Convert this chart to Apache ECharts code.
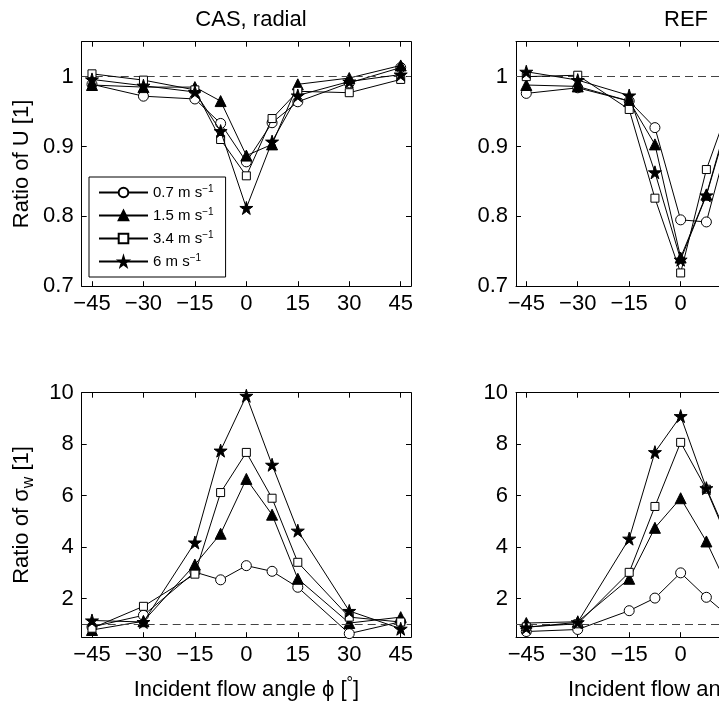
<!DOCTYPE html>
<html>
<head>
<meta charset="utf-8">
<script src="https://cdn.jsdelivr.net/npm/echarts@6.0.0/dist/echarts.min.js"></script>
<style>
  html, body { margin: 0; padding: 0; overflow: hidden; background: #fff; }
  #chart { width: 860px; height: 708px; }
</style>
</head>
<body>
<div id="chart"></div>
<script>
//****** 数据 ******//
var angles = [-45, -30, -15, -7.5, 0, 7.5, 15, 30, 45];
var speeds = ["0.7", "1.5", "3.4", "6"];
var xTicks = [-45, -30, -15, 0, 15, 30, 45];
var uTicks = [0.7, 0.8, 0.9, 1];
var swTicks = [2, 4, 6, 8, 10];

// CAS, radial - Ratio of U //
var casU07 = [0.989, 0.972, 0.968, 0.933, 0.878, 0.934, 0.964, 0.991, 1.013];
var casU15 = [0.988, 0.985, 0.985, 0.965, 0.887, 0.903, 0.989, 0.998, 1.016];
var casU34 = [1.004, 0.995, 0.981, 0.910, 0.858, 0.940, 0.979, 0.977, 0.996];
var casU6 = [0.996, 0.987, 0.978, 0.922, 0.812, 0.907, 0.973, 0.993, 1.003];
// REF - Ratio of U //
var refU07 = [0.976, 0.984, 0.965, 0.927, 0.795, 0.792, 0.93, 0.985, 1.0];
var refU15 = [0.988, 0.986, 0.965, 0.903, 0.741, 0.831, 0.96, 0.99, 1.005];
var refU34 = [1.0, 1.002, 0.953, 0.826, 0.719, 0.867, 0.97, 0.99, 1.0];
var refU6 = [1.007, 0.995, 0.973, 0.863, 0.738, 0.83, 0.955, 0.99, 1.005];
// CAS, radial - Ratio of sigma_w //
var casSw07 = [0.9, 1.35, 3.03, 2.73, 3.28, 3.06, 2.44, 0.64, 1.1];
var casSw15 = [0.78, 1.12, 3.32, 4.52, 6.65, 5.26, 2.77, 1.05, 1.28];
var casSw34 = [0.85, 1.7, 2.95, 6.12, 7.68, 5.9, 3.41, 1.28, 1.09];
var casSw6 = [1.15, 1.09, 4.18, 7.75, 9.88, 7.2, 4.64, 1.52, 0.83];
// REF - Ratio of sigma_w //
var refSw07 = [0.72, 0.8, 1.53, 2.02, 3.0, 2.05, 1.2, 1.0, 1.0];
var refSw15 = [1.05, 1.1, 2.77, 4.75, 5.9, 4.22, 2.1, 1.1, 1.0];
var refSw34 = [0.9, 1.02, 3.02, 5.58, 8.07, 6.25, 3.9, 1.2, 1.0];
var refSw6 = [0.88, 1.08, 4.33, 7.69, 9.09, 6.29, 4.0, 1.3, 1.0];

//****** 样式 ******//
var FONT = "Liberation Sans";
var starPath =
  "path://M50,0 L61,35 L98,35 L68,57 L79,91 L50,70 L21,91 L32,57 L2,35 L39,35 Z";
var marks = [
  { symbol: "circle", size: 10, fill: "#fff" },
  { symbol: "triangle", size: 11, fill: "#000" },
  { symbol: "rect", size: 8, fill: "#fff" },
  { symbol: starPath, size: 13, fill: "#000" }
];

var panels = [
  { left: 81.7, top: 41.7, min: 0.7, max: 1.05, ticks: uTicks, sets: [casU07, casU15, casU34, casU6] },
  { left: 516, top: 41.7, min: 0.7, max: 1.05, ticks: uTicks, sets: [refU07, refU15, refU34, refU6] },
  { left: 81.7, top: 392.7, min: 0.5, max: 10, ticks: swTicks, sets: [casSw07, casSw15, casSw34, casSw6] },
  { left: 516, top: 392.7, min: 0.5, max: 10, ticks: swTicks, sets: [refSw07, refSw15, refSw34, refSw6] }
];

function xLabel(v) {
  return v < 0 ? "\u2212" + -v : String(v);
}
function yLabel(v) {
  return v < 2 && v !== 1 ? v.toFixed(1) : String(v);
}

var grids = [];
var xAxes = [];
var yAxes = [];
var series = [];

panels.forEach(function (p, i) {
  grids.push({ left: p.left, top: p.top, width: 329.3, height: 244.5 });
  var bottomRow = i >= 2;
  var lineCol = { onZero: false, lineStyle: { color: "#000", width: 1 } };
  xAxes.push({
    type: "value", gridIndex: i, min: -48, max: 48, position: "bottom",
    axisLine: lineCol, splitLine: { show: false },
    axisTick: { inside: true, length: 5, customValues: xTicks, lineStyle: { color: "#000" } },
    axisLabel: {
      customValues: xTicks, formatter: xLabel, margin: 7,
      fontSize: 22, fontFamily: FONT, color: "#000"
    },
    name: bottomRow ? "Incident flow angle \u03D5 [{s|\u00B0}]" : "",
    nameLocation: "middle", nameGap: 38,
    nameTextStyle: {
      fontSize: 22, fontFamily: FONT, color: "#000", lineHeight: 30,
      rich: { s: { fontSize: 16, fontFamily: FONT, color: "#000", verticalAlign: "top" } }
    }
  });
  xAxes.push({
    type: "value", gridIndex: i, min: -48, max: 48, position: "top",
    axisLine: lineCol, splitLine: { show: false },
    axisTick: { inside: true, length: 5, customValues: xTicks, lineStyle: { color: "#000" } },
    axisLabel: { show: false }
  });
  yAxes.push({
    type: "value", gridIndex: i, min: p.min, max: p.max, position: "left",
    axisLine: lineCol, splitLine: { show: false },
    axisTick: { inside: true, length: 5, customValues: p.ticks, lineStyle: { color: "#000" } },
    axisLabel: {
      customValues: p.ticks, formatter: yLabel, margin: 8,
      fontSize: 22, fontFamily: FONT, color: "#000"
    },
    name: i === 0 ? "Ratio of U [1]" : i === 2 ? "Ratio of \u03C3{w|w} [1]" : "",
    nameLocation: "middle", nameGap: 45,
    nameTextStyle: {
      fontSize: 22, fontFamily: FONT, color: "#000", lineHeight: 30,
      rich: { w: { fontSize: 16, fontFamily: FONT, color: "#000", verticalAlign: "bottom" } }
    }
  });
  yAxes.push({
    type: "value", gridIndex: i, min: p.min, max: p.max, position: "right",
    axisLine: lineCol, splitLine: { show: false },
    axisTick: { inside: true, length: 5, customValues: p.ticks, lineStyle: { color: "#000" } },
    axisLabel: { show: false }
  });

  p.sets.forEach(function (vals, k) {
    var m = marks[k];
    var s = {
      type: "line",
      name: speeds[k],
      xAxisIndex: i * 2,
      yAxisIndex: i * 2,
      data: angles.map(function (a, j) { return [a, vals[j]]; }),
      symbol: m.symbol,
      symbolSize: m.size,
      showAllSymbol: true,
      lineStyle: { color: "#000", width: 1 },
      itemStyle: { color: m.fill, borderColor: "#000", borderWidth: 1 },
      z: 3 + k,
      animation: false
    };
    if (k === 0) {
      s.markLine = {
        silent: true, symbol: ["none", "none"], label: { show: false },
        lineStyle: { type: [8, 5], color: "#444", width: 1 },
        data: [{ yAxis: 1 }]
      };
    }
    series.push(s);
  });
});

var chart = echarts.init(document.getElementById("chart"));
chart.setOption({
  backgroundColor: "#fff",
  animation: false,
  title: [
    { text: "CAS, radial", left: 246, top: 4, textAlign: "center",
      textStyle: { fontSize: 22, fontWeight: "normal", fontFamily: FONT, color: "#000" } },
    { text: "REF", left: 681, top: 4, textAlign: "center",
      textStyle: { fontSize: 22, fontWeight: "normal", fontFamily: FONT, color: "#000" } }
  ],
  legend: {
    data: speeds,
    orient: "vertical",
    left: 89,
    top: 177,
    padding: [7, 12, 7, 9],
    itemWidth: 49,
    itemHeight: 12,
    itemGap: 6,
    backgroundColor: "#fff",
    borderColor: "#000",
    borderWidth: 1,
    borderRadius: 0,
    selectedMode: false,
    formatter: function (name) {
      return "{t|" + name + " m s}{s|\u22121}";
    },
    textStyle: {
      fontFamily: FONT, color: "#000", fontSize: 15, lineHeight: 17,
      rich: {
        t: { fontSize: 15, fontFamily: FONT, color: "#000", lineHeight: 17 },
        s: { fontSize: 10, fontFamily: FONT, color: "#000", verticalAlign: "top" }
      }
    }
  },
  grid: grids,
  xAxis: xAxes,
  yAxis: yAxes,
  series: series
});
</script>
</body>
</html>
